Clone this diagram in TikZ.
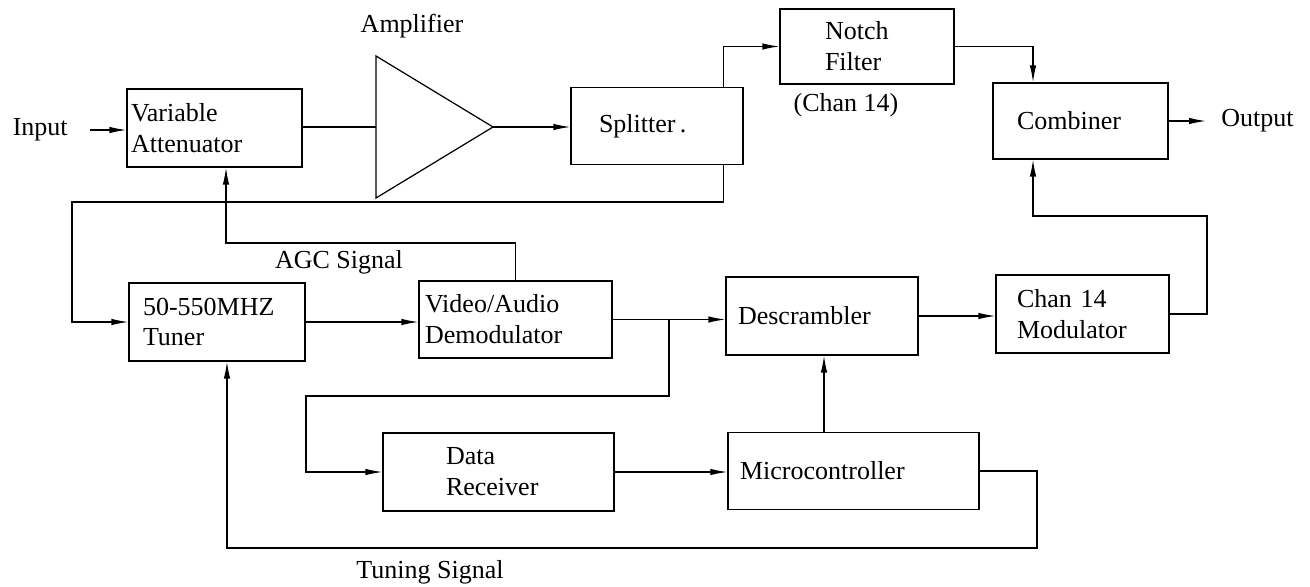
\documentclass[tikz,border=0pt]{standalone}
\usepackage{fontspec}
\setmainfont{Liberation Serif}
\usepackage{tikz}
\usetikzlibrary{arrows.meta,positioning}

\begin{document}
\begin{tikzpicture}[
    x=0.02cm, y=-0.02cm,
    blk/.style={draw, align=left, inner ysep=0pt, line width=0.7pt,
                font=\fontsize{14.8}{17.6}\selectfont},
    lbl/.style={font=\fontsize{14.8}{17.6}\selectfont, inner sep=0pt},
    arr/.style={-{Latex[length=3.4mm,width=1.3mm]}, line width=0.7pt},
    wire/.style={line width=0.7pt},
]
    \useasboundingbox (0,0) rectangle (1310,587);

    % top row
    \node[blk, text width=3.34cm, inner xsep=0.08cm, minimum height=1.56cm] (att) at (214.5,128) {Variable\\Attenuator};
    \coordinate (ampT) at (376,56);
    \coordinate (ampB) at (376,198);
    \coordinate (ampL) at (376,127);
    \coordinate (ampR) at (493,127);
    \draw[wire] (ampT) -- (ampB) -- (ampR) -- cycle;
    \node[blk, text width=2.32cm, inner xsep=0.56cm, minimum height=1.54cm] (split) at (657,126) {Splitter\,.};
    \node[blk, text width=1.68cm, inner xsep=0.9cm, minimum height=1.5cm] (notch) at (867,46.5) {Notch\\Filter};
    \node[blk, text width=2.54cm, inner xsep=0.48cm, minimum height=1.52cm] (comb) at (1080.5,121) {Combiner};

    % middle row
    \node[blk, text width=2.96cm, inner xsep=0.28cm, minimum height=1.56cm] (tuner) at (217,322) {50-550MHZ\\Tuner};
    \node[blk, text width=3.62cm, inner xsep=0.12cm, minimum height=1.54cm] (demod) at (515.5,319.5) {Video/Audio\\Demodulator};
    \node[blk, text width=3.36cm, inner xsep=0.24cm, minimum height=1.56cm] (desc) at (822,316) {Descrambler};
    \node[blk, text width=2.62cm, inner xsep=0.42cm, minimum height=1.56cm] (chan) at (1082.5,314) {Chan 14\\Modulator};

    % bottom row
    \node[blk, text width=2.1cm, inner xsep=1.26cm, minimum height=1.56cm] (data) at (498.5,472) {Data\\Receiver};
    \node[blk, text width=4.54cm, inner xsep=0.24cm, minimum height=1.54cm] (micro) at (853.5,471) {Microcontroller};

    % labels
    \node[lbl, anchor=east, inner xsep=0.44cm] (inp) at (90,130) {Input};
    \node[lbl, anchor=west, inner xsep=0.3cm] (out) at (1206,121) {Output};
    \node[lbl] (amplbl) at (412,26) {Amplifier};
    \node[lbl] (chanlbl) at (846,105) {(Chan 14)};
    \node[lbl] (agclbl) at (339,262) {AGC Signal};
    \node[lbl] (tunelbl) at (430,572) {Tuning Signal};

    \coordinate (fb) at (72,202);
    \coordinate (agc) at (226,243);
    \coordinate (br) at (669,319.5);
    \coordinate (dr) at (306,396);
    \coordinate (cr) at (1207,216);
    \coordinate (tn) at (1037,548);

    \draw[arr] (inp.east) -- (inp.east -| att.west);
    \draw[wire] (att.east |- ampL) -- (ampL);
    \draw[arr] (ampR) -- (ampR -| split.west);
    \draw[arr] ([xshift=-0.4cm]split.north east) |- (notch.west);
    \draw[arr] (notch.east) -| ([xshift=-0.95cm]comb.north);
    \draw[arr] (comb.east) -- (out.west);
    \draw[arr] ([xshift=-0.4cm]split.south east) |- (fb) |- (tuner.west);
    \draw[arr] (demod.north) |- (agc) -- (agc |- att.south);
    \draw[arr] (tuner.east) -- (tuner.east -| demod.west);
    \draw[arr] (demod.east) -- (demod.east -| desc.west);
    \draw[arr] (br) |- (dr) |- (data.west);
    \draw[arr] (desc.east) -- (desc.east -| chan.west);
    \draw[arr] (chan.east) -| (cr) -| ([xshift=-0.95cm]comb.south);
    \draw[arr] (data.east) -- (data.east -| micro.west);
    \draw[arr] ([xshift=-0.59cm]micro.north) -- ([xshift=-0.59cm]micro.north |- desc.south);
    \draw[arr] (micro.east) -| (tn) -| ([xshift=0.2cm]tuner.south);
\end{tikzpicture}
\end{document}
